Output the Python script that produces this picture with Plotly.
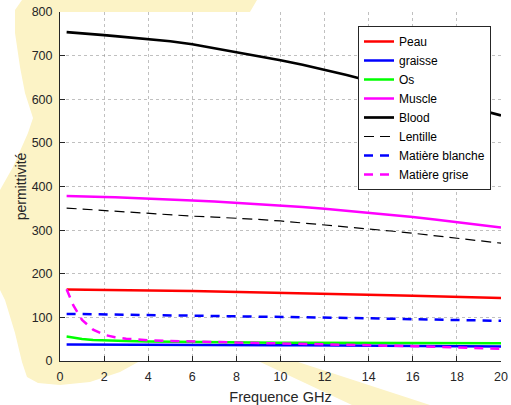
import plotly.graph_objects as go

# ---------------- data ----------------
freq_ghz = [0.3, 0.6, 1, 1.5, 2, 2.5, 3, 4, 5, 6, 7, 8, 9, 10, 11, 12, 13, 14, 15, 16, 17, 18, 19, 20]

peau = [164, 163.9, 163.8, 163.5, 163.2, 163, 162.8, 162, 161.3, 160.5, 159.6, 158.6, 157.6, 156.5,
        155.4, 154.3, 153.2, 152, 150.9, 149.7, 148.5, 147.2, 145.9, 144.6]
graisse = [37.8, 37.8, 37.7, 37.6, 37.5, 37.5, 37.4, 37.2, 37, 36.9, 36.7, 36.5, 36.4, 36.2,
           36, 35.7, 35.5, 35.2, 34.9, 34.6, 34.3, 34, 33.8, 33.5]
os_ = [56, 53.5, 50.5, 48.3, 47, 46.2, 45.6, 44.7, 44, 43.5, 43, 42.6, 42.3, 42,
       41.8, 41.6, 41.4, 41.2, 41, 40.9, 40.8, 40.7, 40.6, 40.5]
muscle = [378, 377.9, 377.6, 376.9, 376, 375.2, 374.4, 372.5, 370.4, 368, 365.4, 362.5, 359.6, 356.5,
          352.9, 349, 344.6, 340, 335.1, 330, 324.4, 318.5, 312.3, 306]
blood = [754, 753, 751.5, 749.3, 747, 744.8, 742.5, 738, 733, 726, 717, 708, 699, 689.5,
         679, 668, 655.5, 642.5, 629.5, 616, 603, 590, 576.5, 563]
lentille = [350.5, 349.5, 348, 346, 344, 342.3, 340.7, 337.5, 334.6, 332, 329.8, 327.5, 324.5, 321,
            316.7, 312, 307.6, 303, 298, 293, 287.6, 282, 276.2, 270]
matiere_blanche = [108, 107.8, 107.6, 107.3, 107, 106.7, 106.4, 105.6, 104.9, 104.1, 103.4, 102.6, 101.9, 101.1,
                   100.3, 99.6, 98.8, 97.9, 97, 96, 95.1, 94.1, 93.1, 92]
matiere_grise = [164.5, 128, 94, 72, 60, 54.5, 51, 47.5, 46, 44.5, 43.3, 42.2, 41.2, 40.3,
                 39.5, 38.6, 37.6, 36.5, 35.3, 34, 32.6, 31.2, 29.7, 28.2]

series_names = ["Peau", "graisse", "Os", "Muscle", "Blood", "Lentille", "Matière blanche", "Matière grise"]
x_ticks = [0, 2, 4, 6, 8, 10, 12, 14, 16, 18, 20]
y_ticks = [0, 100, 200, 300, 400, 500, 600, 700, 800]

# ---------------- styles ----------------
styles = [
    dict(color="#FF0000", width=2.5, dash="solid"),
    dict(color="#0000FF", width=2.5, dash="solid"),
    dict(color="#00FF00", width=2.5, dash="solid"),
    dict(color="#FF00FF", width=2.5, dash="solid"),
    dict(color="#000000", width=2.7, dash="solid"),
    dict(color="#000000", width=1.2, dash="10px,6px"),
    dict(color="#0000FF", width=2.5, dash="9px,7px"),
    dict(color="#FF00FF", width=2.5, dash="9px,7px"),
]
all_series = [peau, graisse, os_, muscle, blood, lentille, matiere_blanche, matiere_grise]

fig = go.Figure()
for name, ys, st in zip(series_names, all_series, styles):
    fig.add_trace(go.Scatter(x=freq_ghz, y=ys, mode="lines", name=name, line=st))

W, H = 511, 405
L, R, T, B = 60, 10, 12, 44
pw, ph = W - L - R, H - T - B


def px2paper(px, py):
    return ((px - L) / pw, (H - B - py) / ph)


def path_from(points):
    pts = [px2paper(x, y) for x, y in points]
    return "M " + " L ".join(f"{a:.4f},{b:.4f}" for a, b in pts) + " Z"


yellow = "#FCF3C6"
blob = [(22, 0), (257, 0), (250, 12), (60, 12), (60, 361), (140, 361), (120, 372), (90, 382),
        (60, 385), (38, 383), (27, 377), (22, 362), (15, 333), (5, 300), (0, 290), (0, 190),
        (13, 167), (28, 133), (33, 118), (25, 93), (20, 67), (15, 33), (15, 10)]
band = [(258, 361), (295, 361), (430, 405), (352, 405)]

shapes = [
    dict(type="path", xref="paper", yref="paper", path=path_from(blob), fillcolor=yellow,
         line=dict(width=0), layer="below"),
    dict(type="path", xref="paper", yref="paper", path=path_from(band), fillcolor=yellow,
         line=dict(width=0), layer="below"),
    dict(type="rect", xref="paper", yref="paper", x0=0, x1=1, y0=0, y1=1, fillcolor="white",
         line=dict(width=0), layer="below"),
]

font = "Liberation Sans, Arial, Helvetica, sans-serif"
fig.update_layout(
    width=W, height=H,
    margin=dict(l=L, r=R, t=T, b=B, autoexpand=False),
    paper_bgcolor="white", plot_bgcolor="white",
    font=dict(family=font, size=12.5, color="#262626"),
    shapes=shapes,
    showlegend=True,
    legend=dict(x=px2paper(358, 26)[0], y=px2paper(358, 26)[1], xanchor="left", yanchor="top",
                bgcolor="white", bordercolor="#262626", borderwidth=1,
                font=dict(family=font, size=12, color="#000000"),
                itemwidth=30, tracegroupgap=0),
    xaxis=dict(range=[0, 20], tickvals=x_ticks, ticktext=[str(v) for v in x_ticks],
               showline=True, linecolor="#262626", linewidth=1, ticks="inside", ticklen=5,
               tickcolor="#262626", showgrid=True, gridcolor="rgba(140,140,140,0.55)",
               griddash="dot", gridwidth=1, zeroline=False, mirror=False,
               ticklabelstandoff=4, ticklabeloverflow="allow", tickfont=dict(size=12.5),
               title=dict(text="Frequence GHz", font=dict(size=14.5, color="#262626"), standoff=9)),
    yaxis=dict(range=[0, 800], tickvals=y_ticks, ticktext=[str(v) for v in y_ticks],
               showline=True, linecolor="#262626", linewidth=1, ticks="inside", ticklen=5,
               tickcolor="#262626", showgrid=True, gridcolor="rgba(140,140,140,0.55)",
               griddash="dot", gridwidth=1, zeroline=False, mirror=False,
               ticklabelstandoff=4, ticklabeloverflow="allow",
               title=dict(text="permittivité", font=dict(size=14, color="#262626"), standoff=1)),
)

# remove the default page margin so the figure sits at the window's top-left corner
fig.write_html("out.html", config={"displayModeBar": False},
               post_script="document.body.style.margin='0';")
